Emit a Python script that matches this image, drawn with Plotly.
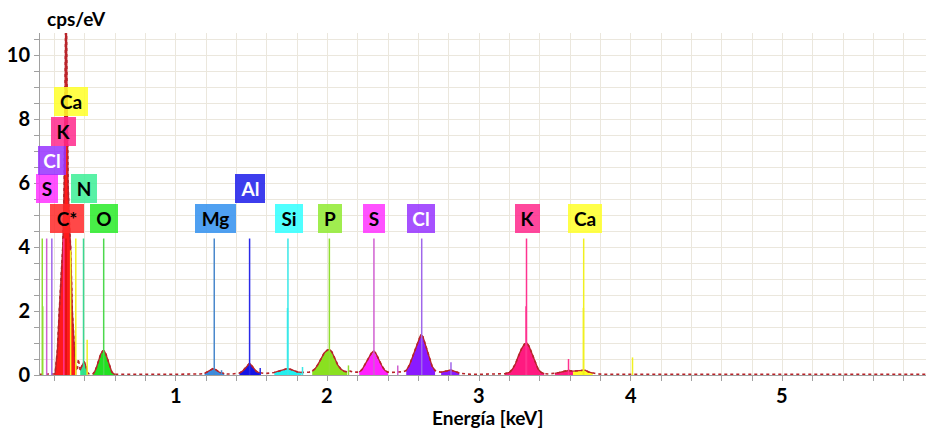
import plotly.graph_objects as go

# ---------------- data ----------------
energy = [0.105, 0.12, 0.14, 0.16, 0.18, 0.20, 0.205, 0.21, 0.22, 0.232, 0.245, 0.255, 0.265, 0.272,
          0.277, 0.282, 0.29, 0.30, 0.307, 0.318, 0.33, 0.337, 0.345, 0.352, 0.358, 0.363, 0.37,
          0.378, 0.388, 0.395, 0.403, 0.412, 0.42, 0.43, 0.44, 0.455, 0.465, 0.478, 0.49, 0.505,
          0.518, 0.528, 0.54, 0.552, 0.565, 0.578, 0.59, 0.60, 0.65, 0.70, 0.75, 0.80, 0.85, 0.90,
          0.95, 1.00, 1.05, 1.10, 1.16, 1.19, 1.21, 1.23, 1.245, 1.26, 1.275, 1.29, 1.305, 1.32,
          1.34, 1.37, 1.40, 1.42, 1.44, 1.46, 1.475, 1.487, 1.50, 1.515, 1.53, 1.545, 1.56, 1.58,
          1.60, 1.62, 1.65, 1.68, 1.71, 1.735, 1.755, 1.78, 1.80, 1.83, 1.86, 1.88, 1.90, 1.92,
          1.94, 1.96, 1.98, 2.00, 2.015, 2.03, 2.05, 2.07, 2.09, 2.11, 2.13, 2.15, 2.17, 2.19,
          2.21, 2.23, 2.25, 2.27, 2.29, 2.305, 2.32, 2.34, 2.36, 2.38, 2.40, 2.42, 2.44, 2.46,
          2.48, 2.50, 2.52, 2.54, 2.56, 2.58, 2.60, 2.615, 2.63, 2.65, 2.67, 2.69, 2.71, 2.73,
          2.75, 2.77, 2.79, 2.81, 2.83, 2.85, 2.87, 2.89, 2.92, 2.97, 3.02, 3.07, 3.12, 3.17,
          3.20, 3.22, 3.24, 3.26, 3.28, 3.30, 3.315, 3.33, 3.35, 3.37, 3.39, 3.41, 3.43, 3.46,
          3.50, 3.53, 3.56, 3.59, 3.62, 3.65, 3.68, 3.70, 3.72, 3.75, 3.78, 3.85, 3.95, 4.05,
          4.15, 4.30, 4.45, 4.60, 4.75, 4.90, 5.05, 5.20, 5.35, 5.50, 5.65, 5.80, 6.00]
counts = [0.02, 0.03, 0.02, 0.03, 0.02, 0.03, 0.06, 0.3, 0.8, 2.0, 3.2, 4.0, 6.0, 9.5,
          12.5, 9.5, 6.0, 4.6, 4.0, 2.0, 0.8, 0.4, 0.15, 0.2, 0.5, 0.3, 0.15,
          0.25, 0.38, 0.42, 0.35, 0.18, 0.06, 0.03, 0.02, 0.04, 0.1, 0.25, 0.45, 0.65,
          0.75, 0.76, 0.65, 0.45, 0.25, 0.1, 0.04, 0.02, 0.02, 0.03, 0.02, 0.02, 0.03, 0.02,
          0.02, 0.03, 0.02, 0.03, 0.03, 0.05, 0.1, 0.17, 0.2, 0.18, 0.12, 0.08, 0.06, 0.04,
          0.03, 0.03, 0.04, 0.06, 0.12, 0.22, 0.32, 0.37, 0.3, 0.2, 0.12, 0.08, 0.06, 0.05,
          0.05, 0.06, 0.08, 0.12, 0.17, 0.2, 0.18, 0.13, 0.1, 0.08, 0.08, 0.09, 0.12, 0.2,
          0.35, 0.55, 0.7, 0.78, 0.8, 0.72, 0.5, 0.3, 0.18, 0.12, 0.1, 0.12, 0.09, 0.08,
          0.09, 0.18, 0.35, 0.52, 0.68, 0.75, 0.68, 0.48, 0.28, 0.14, 0.09, 0.08, 0.08, 0.1,
          0.09, 0.1, 0.14, 0.3, 0.55, 0.8, 1.1, 1.25, 1.2, 0.9, 0.55, 0.28, 0.14, 0.1,
          0.09, 0.1, 0.13, 0.16, 0.14, 0.1, 0.06, 0.04, 0.03, 0.02, 0.03, 0.02, 0.03, 0.04,
          0.08, 0.18, 0.35, 0.6, 0.82, 0.97, 1.0, 0.9, 0.65, 0.38, 0.18, 0.08, 0.04, 0.03,
          0.05, 0.08, 0.12, 0.14, 0.12, 0.14, 0.16, 0.15, 0.1, 0.06, 0.03, 0.02, 0.03, 0.02,
          0.02, 0.03, 0.02, 0.02, 0.03, 0.02, 0.02, 0.03, 0.02, 0.02, 0.02, 0.02, 0.02]

# filled peak regions: element, energy from, energy to
fill_element = ["C", "N", "O", "Mg", "Al", "Si", "P", "S", "Cl", "Cl", "K", "K", "Ca"]
fill_from = [0.20, 0.37, 0.455, 1.19, 1.42, 1.65, 1.90, 2.21, 2.52, 2.75, 3.17, 3.50, 3.62]
fill_to = [0.345, 0.425, 0.60, 1.32, 1.56, 1.83, 2.13, 2.40, 2.72, 2.87, 3.43, 3.64, 3.76]

# element marker lines: element, energy, relative height
line_element = ["P", "P", "S", "Cl", "K", "Ca", "Ca", "Ca", "N", "O", "Mg", "Mg", "Al", "Al",
                "Si", "Si", "Si", "P", "P", "S", "S", "Cl", "Cl", "K", "K", "K",
                "Ca", "Ca", "Ca", "C"]
line_energy = [0.120, 0.123, 0.149, 0.183, 0.262, 0.307, 0.341, 0.416, 0.392, 0.525, 1.254, 1.302,
               1.487, 1.557, 1.740, 1.737, 1.836, 2.013, 2.139, 2.307, 2.464, 2.622, 2.815,
               3.313, 3.310, 3.590, 3.690, 3.688, 4.012, 0.277]
line_height = [4.27, 2.15, 4.27, 4.27, 4.27, 3.9, 4.27, 1.1, 4.27, 4.27, 4.27, 0.15,
               4.27, 0.22, 4.27, 2.1, 0.25, 4.27, 0.3, 4.27, 0.3, 4.27, 0.4,
               4.27, 2.15, 0.5, 4.27, 2.1, 0.55, 4.27]

# element label boxes: text, element, energy, level
label_text = ["C*", "O", "Mg", "Si", "P", "S", "Cl", "K", "Ca", "Al", "N", "S", "Cl", "K", "Ca"]
label_element = ["C", "O", "Mg", "Si", "P", "S", "Cl", "K", "Ca", "Al", "N", "S", "Cl", "K", "Ca"]
label_energy = [0.283, 0.526, 1.26, 1.75, 2.02, 2.31, 2.62, 3.32, 3.70, 1.487, 0.395, 0.152,
                0.183, 0.262, 0.31]
label_level = [4.90, 4.90, 4.90, 4.90, 4.90, 4.90, 4.90, 4.90, 4.90, 5.82, 5.82, 5.82,
               6.71, 7.62, 8.56]

# x tick labels
x_ticks = [1, 2, 3, 4, 5, 6]

# ---------------- styles ----------------
fill_color = {"C": "#ff1a1a", "N": "#2ee88c", "O": "#22e022", "Mg": "#3a8de0", "Al": "#1414e6",
              "Si": "#22f0f0", "P": "#8ae020", "S": "#ff22ff", "Cl": "#8a1aff", "K": "#ff1a80",
              "Ca": "#ffff22"}
line_color = {"C": "#e01010", "N": "#3ad890", "O": "#4cd84c", "Mg": "#4a88cc", "Al": "#2a2ae8",
              "Si": "#3ae8e8", "P": "#90dd30", "S": "#d060d0", "Cl": "#a066ea", "K": "#ff3390",
              "Ca": "#f0f020"}
box_color = {"C": "rgba(255,40,40,0.85)", "N": "rgba(60,238,150,0.85)",
             "O": "rgba(40,235,40,0.85)", "Mg": "rgba(60,150,240,0.9)",
             "Al": "rgba(40,40,235,0.9)", "Si": "rgba(60,255,255,0.9)",
             "P": "rgba(150,235,60,0.9)", "S": "rgba(255,50,255,0.85)",
             "Cl": "rgba(150,50,255,0.85)", "K": "rgba(255,40,140,0.85)",
             "Ca": "rgba(255,255,40,0.85)"}
text_color = {"Al": "white", "Cl": "white"}
box_width = {"C*": 34, "O": 28, "Mg": 41, "Si": 28, "P": 24, "S": 22, "Cl": 28, "K": 25,
             "Ca": 34, "Al": 30, "N": 26}
SPEC_COLOR = "#b8242a"

FONT = "Lato, 'Open Sans', sans-serif"
# the page body adds an 8 px offset, so the figure is sized to compensate
FIG_W, FIG_H = 926, 421
M_L, M_T, M_B = 32, 25, 54
PLOT_H = FIG_H - M_T - M_B

fig = go.Figure()

# peak fills
for el, lo, hi in zip(fill_element, fill_from, fill_to):
    xs = [e for e in energy if lo <= e <= hi]
    ys = [c for e, c in zip(energy, counts) if lo <= e <= hi]
    fig.add_trace(go.Scatter(x=xs, y=ys, mode="lines", fill="tozeroy",
                             fillcolor=fill_color[el], line=dict(width=0),
                             hoverinfo="skip", showlegend=False))

# spectrum: dotted near-zero background, solid outline over the peaks
fig.add_trace(go.Scatter(x=energy, y=counts, mode="lines",
                         line=dict(color=SPEC_COLOR, width=1.6, dash="dot"),
                         showlegend=False, name="spectrum"))
for lo, hi in zip(fill_from, fill_to):
    xs = [e for e in energy if lo <= e <= hi]
    ys = [c for e, c in zip(energy, counts) if lo <= e <= hi]
    fig.add_trace(go.Scatter(x=xs, y=ys, mode="lines",
                             line=dict(color=SPEC_COLOR, width=1.3),
                             hoverinfo="skip", showlegend=False))

# marker lines
for el in line_color:
    xs, ys = [], []
    for e, h, le in zip(line_energy, line_height, line_element):
        if le == el:
            xs += [e, e, None]
            ys += [0, h, None]
    if xs:
        fig.add_trace(go.Scatter(x=xs, y=ys, mode="lines",
                                 line=dict(color=line_color[el], width=1.5),
                                 hoverinfo="skip", showlegend=False))

# label boxes
for t, el, e, lv in zip(label_text, label_element, label_energy, label_level):
    fig.add_annotation(x=e, y=lv, xref="x", yref="y", text="<b>%s</b>" % t, showarrow=False,
                       font=dict(family=FONT, size=19, color=text_color.get(el, "black")),
                       bgcolor=box_color[el], width=box_width[t], height=29,
                       borderpad=0, borderwidth=0, xanchor="center", yanchor="middle")

# x tick labels (drawn as text so the last one may run off the edge, as in the original)
for v in x_ticks:
    fig.add_annotation(x=v, y=0, xref="x", yref="paper", text="<b>%d</b>" % v,
                       showarrow=False, xanchor="center", yanchor="middle", yshift=-20,
                       font=dict(family=FONT, size=20, color="black"))

# axis titles
fig.add_annotation(x=0.006, y=1.0 + 15 / PLOT_H, xref="paper", yref="paper",
                   text="<b>cps/eV</b>", showarrow=False, xanchor="left", yanchor="middle",
                   font=dict(family=FONT, size=19, color="black"))
fig.add_annotation(x=0.5, y=-42 / PLOT_H, xref="paper", yref="paper",
                   text="<b>Energía [keV]</b>", showarrow=False, xanchor="center",
                   yanchor="middle", font=dict(family=FONT, size=19, color="black"))

fig.update_layout(
    width=FIG_W, height=FIG_H,
    margin=dict(l=M_L, r=0, t=M_T, b=M_B, autoexpand=False),
    paper_bgcolor="white", plot_bgcolor="white",
    showlegend=False,
    xaxis=dict(range=[0.105, 6.0], tick0=0, dtick=1, showgrid=True, gridcolor="#ebe7dd",
               gridwidth=1, ticks="outside", ticklen=5, tickcolor="#a0a0a0",
               showline=True, linecolor="#a0a0a0", linewidth=1, zeroline=False,
               automargin=False, showticklabels=False,
               minor=dict(dtick=0.2, tick0=0, showgrid=True, gridcolor="#ebe7dd",
                          ticks="outside", ticklen=5, tickcolor="#a0a0a0")),
    yaxis=dict(range=[0, 10.7], tick0=0, dtick=2, showgrid=True, gridcolor="#ebe7dd",
               gridwidth=1, ticks="outside", ticklen=5, tickcolor="#a0a0a0",
               showline=True, linecolor="#a0a0a0", linewidth=1, zeroline=False,
               automargin=False,
               tickfont=dict(family=FONT, size=20, color="black", weight="bold"),
               minor=dict(dtick=0.5, tick0=0, showgrid=True, gridcolor="#ebe7dd",
                          ticks="outside", ticklen=5, tickcolor="#a0a0a0")),
)

fig.write_html("out.html")
